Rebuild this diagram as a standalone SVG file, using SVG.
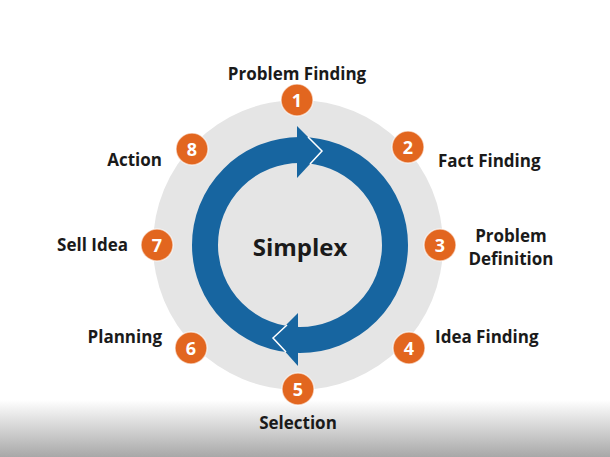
<svg xmlns="http://www.w3.org/2000/svg" width="610" height="457" viewBox="0 0 610 457">
  <defs>
    <linearGradient id="bg" x1="0" y1="0" x2="0" y2="1">
      <stop offset="0" stop-color="#ffffff"/>
      <stop offset="1" stop-color="#a8a8a8"/>
    </linearGradient>
    <style>
      .badge circle { fill: #e2661f; stroke: #ffffff; stroke-opacity: 0.6; stroke-width: 1.5; }
      .badge text { fill: #ffffff; font-family: "Open Sans", "Liberation Sans", sans-serif; font-weight: bold; font-size: 18px; text-anchor: middle; }
      .label { fill: #1a1a1a; font-family: "Open Sans", "Liberation Sans", sans-serif; font-weight: bold; font-size: 17px; }
      .head { fill: #1765a0; }
      .edge { fill: none; stroke: #ffffff; stroke-width: 1.5; stroke-linejoin: miter; }
    </style>
  </defs>
  <rect x="0" y="0" width="610" height="457" fill="#ffffff"/>
  <rect x="0" y="400" width="610" height="57" fill="url(#bg)"/>

  <circle cx="298" cy="245" r="145" fill="#e5e5e5"/>

  <g id="cycle">
    <circle cx="300" cy="245" r="95" fill="none" stroke="#1765a0" stroke-width="26"/>
    <polygon class="head" points="297,126 322,151 297,178"/>
    <polyline class="edge" points="308,137 322,151 310,164"/>
    <polygon class="head" points="298,313 273,338 298,366"/>
    <polyline class="edge" points="287,325 273,338 286,352"/>
  </g>

  <g id="center-label">
    <text x="300" y="256" font-family="'Open Sans', 'Liberation Sans', sans-serif" font-weight="bold" font-size="24" fill="#1a1a1a" text-anchor="middle">Simplex</text>
  </g>

  <g id="node1" class="badge"><circle cx="297" cy="100" r="16"/><text x="297" y="106.5">1</text></g>
  <g id="node2" class="badge"><circle cx="408" cy="147" r="16"/><text x="408" y="153.5">2</text></g>
  <g id="node3" class="badge"><circle cx="440" cy="245" r="16"/><text x="440" y="251.5">3</text></g>
  <g id="node4" class="badge"><circle cx="409" cy="348" r="16"/><text x="409" y="354.5">4</text></g>
  <g id="node5" class="badge"><circle cx="298" cy="389" r="16"/><text x="298" y="395.5">5</text></g>
  <g id="node6" class="badge"><circle cx="191" cy="348" r="16"/><text x="191" y="354.5">6</text></g>
  <g id="node7" class="badge"><circle cx="157" cy="245" r="16"/><text x="157" y="251.5">7</text></g>
  <g id="node8" class="badge"><circle cx="192" cy="149" r="16"/><text x="192" y="155.5">8</text></g>

  <g id="labels">
    <text class="label" x="297" y="80" text-anchor="middle">Problem Finding</text>
    <text class="label" x="438" y="167">Fact Finding</text>
    <text class="label" x="511" y="242" text-anchor="middle">Problem</text>
    <text class="label" x="511" y="265" text-anchor="middle">Definition</text>
    <text class="label" x="435" y="343">Idea Finding</text>
    <text class="label" x="298" y="429" text-anchor="middle">Selection</text>
    <text class="label" x="162" y="343" text-anchor="end">Planning</text>
    <text class="label" x="128" y="251" text-anchor="end">Sell Idea</text>
    <text class="label" x="162" y="166" text-anchor="end">Action</text>
  </g>
</svg>
